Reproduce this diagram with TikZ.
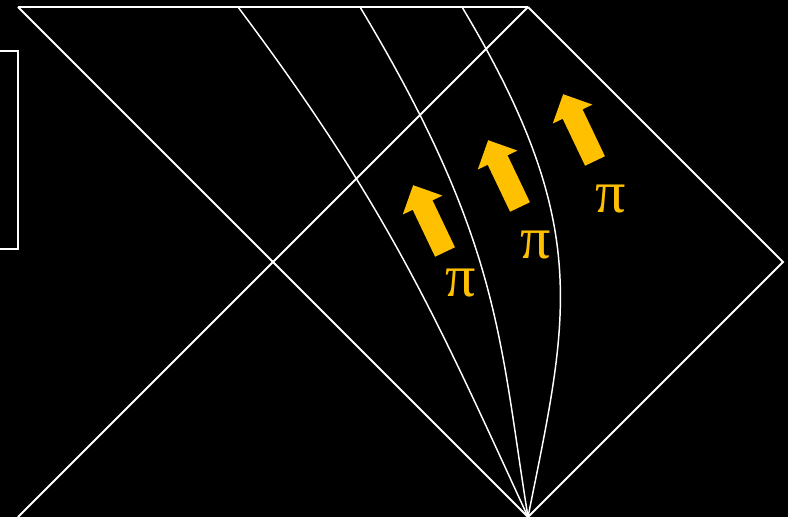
\documentclass[tikz,border=0pt]{standalone}
\usepackage{fontspec}
\newfontfamily\pifont{Liberation Serif}
\definecolor{gold}{HTML}{FFC000}
\begin{document}
\begin{tikzpicture}[x=0.75pt,y=-0.75pt,
  wline/.style={draw=white,line width=1.5pt},
  cline/.style={draw=white,line width=1.1pt},
  pilabel/.style={text=gold,font=\pifont\fontsize{45}{45}\selectfont,inner sep=0pt}]
\fill[black] (0,0) rectangle (788,517);
\useasboundingbox (0,0) rectangle (788,517);
% key points
\coordinate (TL) at (18,7);
\coordinate (TR) at (528,7);
\coordinate (BL) at (18,518.2);
\coordinate (BR) at (528,517);
\coordinate (BR2) at (528,518.2);
\coordinate (R) at (783,262);
\coordinate (A1) at (238,7);
\coordinate (A2) at (360,7);
\coordinate (A3) at (462,7);
% frame lines
\draw[wline] (TL) -- (TR);
\draw[wline] (BL) -- (BR2);
\draw[wline] (TL) -- (BR);
\draw[wline] (18,517) -- (TR);
\draw[wline] (TR) -- (R) -- (BR);
% left box
\draw[draw=white,line width=1.7pt] (-20,51) rectangle (18,249);
% curves
\draw[cline] (A1) .. controls (388,207) and (436,317) .. (BR);
\draw[cline] (A2) .. controls (501,242) and (499,337) .. (BR);
\draw[cline] (A3) .. controls (594,227) and (568,317) .. (BR);
% arrows
\foreach \tx/\ty in {445/252, 520/207, 595/161}{
  \fill[gold, shift={(\tx,\ty)}, rotate=115.5]
    (0,-11) -- (52,-11) -- (52,-22) -- (74,0) -- (52,22) -- (52,11) -- (0,11) -- cycle;
}
% labels
\node[pilabel] (p1) at (461,283) {π};
\node[pilabel] (p2) at (536,245) {π};
\node[pilabel] (p3) at (611,199) {π};
\end{tikzpicture}
\end{document}
